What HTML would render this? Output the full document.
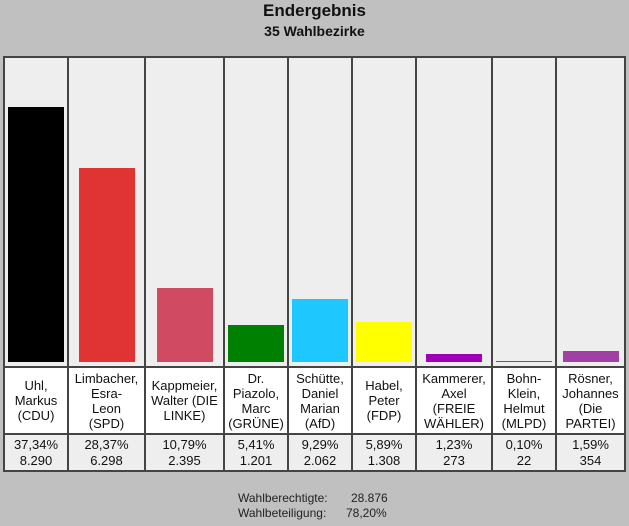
<!DOCTYPE html>
<html><head><meta charset="utf-8"><style>
body{margin:0;width:629px;height:526px;background:#c0c0c0;font-family:"Liberation Sans",Arial,sans-serif;position:relative;overflow:hidden}
.t{position:absolute;left:0;width:629px;text-align:center;font-weight:bold;color:#111}
.cell{position:absolute;box-sizing:border-box;display:flex;align-items:center;justify-content:center;text-align:center;font-size:13px;line-height:15px;color:#111}
.bar{position:absolute}
.line{position:absolute;background:#444}
.foot{position:absolute;font-size:12px;color:#222}
</style></head><body>
<div class="t" style="top:1px;font-size:17px">Endergebnis</div>
<div class="t" style="top:23px;font-size:14px">35 Wahlbezirke</div>
<div id="chart"></div>
<div class="foot" style="left:238px;top:491px">Wahlberechtigte:</div>
<div class="foot" style="left:351px;top:491px">28.876</div>
<div class="foot" style="left:238px;top:506px">Wahlbeteiligung:</div>
<div class="foot" style="left:346px;top:506px">78,20%</div>
<script>
const candidates=["Uhl,<br>Markus<br>(CDU)","Limbacher,<br>Esra-<br>Leon<br>(SPD)","Kappmeier,<br>Walter (DIE<br>LINKE)","Dr.<br>Piazolo,<br>Marc<br>(GRÜNE)","Schütte,<br>Daniel<br>Marian<br>(AfD)","Habel,<br>Peter<br>(FDP)","Kammerer,<br>Axel<br>(FREIE<br>WÄHLER)","Bohn-<br>Klein,<br>Helmut<br>(MLPD)","Rösner,<br>Johannes<br>(Die<br>PARTEI)"];
const percents=[37.34,28.37,10.79,5.41,9.29,5.89,1.23,0.10,1.59];
const percentLabels=["37,34%","28,37%","10,79%","5,41%","9,29%","5,89%","1,23%","0,10%","1,59%"];
const votes=["8.290","6.298","2.395","1.201","2.062","1.308","273","22","354"];
const colors=["#000000","#e03434","#d04a62","#008000","#1ec8ff","#ffff00","#a000b4","#c83040","#a040a4"];
const edges=[4,68,145,224,288,352,416,492,556,625];
const top0=57,barBottom=362,nameTop=367,valTop=434,bottom=471;
const pxPerPct=6.83;
const yScale=v=>barBottom-v*pxPerPct;
const c=document.getElementById('chart');
function mk(cls,st,html){const d=document.createElement('div');d.className=cls;Object.assign(d.style,st);if(html)d.innerHTML=html;c.appendChild(d);return d;}
// backgrounds
let bg=mk('cell',{left:edges[0]+'px',top:top0+'px',width:(edges[9]-edges[0])+'px',height:(nameTop-top0)+'px',background:'#eeeeee'});


let nb=mk('cell',{left:edges[0]+'px',top:nameTop+'px',width:(edges[9]-edges[0])+'px',height:(valTop-nameTop)+'px',background:'#ffffff'});


let vb=mk('cell',{left:edges[0]+'px',top:valTop+'px',width:(edges[9]-edges[0])+'px',height:(bottom-valTop)+'px',background:'#eeeeee'});


for(let i=0;i<candidates.length;i++){
  const l=edges[i],r=edges[i+1],w=r-l,cx=(l+r)/2;
  const y=yScale(percents[i]);
  const h=Math.max(1,barBottom-y);
  const b=mk('bar',{left:(cx-28)+'px',top:(barBottom-h)+'px',width:'56px',height:h+'px',background:colors[i]});
  
  
  const n=mk('cell',{left:l+'px',top:nameTop+'px',width:w+'px',height:(valTop-nameTop)+'px'},candidates[i]);
  
  
  const v=mk('cell',{left:l+'px',top:valTop+'px',width:w+'px',height:(bottom-valTop)+'px',lineHeight:'16px'},percentLabels[i]+'<br>'+votes[i]);
  
  
}
for(const x of edges){const ln=mk('line',{left:(x-1)+'px',top:(top0-1)+'px',width:'2px',height:(bottom-top0+2)+'px'});

}
for(const y of [top0,nameTop,valTop,bottom]){const ln=mk('line',{left:(edges[0]-1)+'px',top:(y-1)+'px',width:(edges[9]-edges[0]+2)+'px',height:'2px'});

}
</script>
</body></html>
